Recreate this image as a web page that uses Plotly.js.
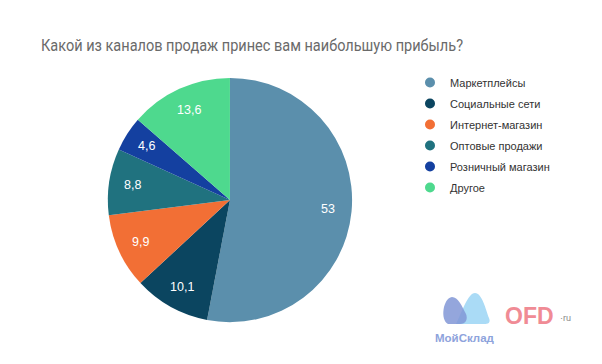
<!DOCTYPE html>
<html><head><meta charset="utf-8">
<script src="https://cdn.plot.ly/plotly-3.0.1.min.js"></script>
<style>html,body{margin:0;padding:0;background:#fff}#c{width:602px;height:364px}</style>
</head><body><div id="c"></div>
<script>
const categories = ["Маркетплейсы","Социальные сети","Интернет-магазин","Оптовые продажи","Розничный магазин","Другое"];
const values = [53, 10.1, 9.9, 8.8, 4.6, 13.6];
const valueLabels = ["53","10,1","9,9","8,8","4,6","13,6"];
const colors = ["#5b8fac","#0b4560","#f26f35","#20727f","#1440a0","#4ed98e"];
const titleText = "Какой из каналов продаж принес вам наибольшую прибыль?";

const W = 602, H = 364;
const pieDomain = {x: [0.179, 0.585], y: [0.115, 0.786]};
const px = (x) => x / W, py = (y) => 1 - y / H;

const traces = [{
  type: "pie",
  labels: categories,
  values: values,
  textinfo: "none",
  sort: false,
  direction: "clockwise",
  rotation: 0,
  marker: {colors: colors, line: {width: 0}},
  showlegend: false,
  hoverinfo: "label+value",
  domain: pieDomain
}];
categories.forEach((c, i) => {
  traces.push({
    type: "scatter", mode: "markers", x: [null], y: [null], name: c,
    legendgroup: "g" + i,
    marker: {color: colors[i], size: 10, symbol: "circle"},
    showlegend: true, hoverinfo: "skip"
  });
});

// value labels placed at the middle angle of each slice, computed from the data
const cx = (pieDomain.x[0] + pieDomain.x[1]) / 2 * W;
const cy = (1 - (pieDomain.y[0] + pieDomain.y[1]) / 2) * H;
const R = Math.min((pieDomain.x[1] - pieDomain.x[0]) * W, (pieDomain.y[1] - pieDomain.y[0]) * H) / 2;
const total = values.reduce((a, b) => a + b, 0);
let cum = 0;
const labelAnns = values.map((v, i) => {
  const mid = (cum + v / 2) / total * 2 * Math.PI;
  cum += v;
  const lx = cx + 0.81 * R * Math.sin(mid);
  const ly = cy - 0.81 * R * Math.cos(mid);
  return {xref: "paper", yref: "paper", x: px(lx), y: py(ly), xanchor: "center", yanchor: "middle",
    text: valueLabels[i], showarrow: false,
    font: {family: "Liberation Sans, Arial, sans-serif", size: 12.5, color: "#ffffff"}};
});

function path(pts) { // pixel path -> paper path
  return pts.replace(/(-?\d+(\.\d+)?),(-?\d+(\.\d+)?)/g, (m, a, b, c2, d) => px(+a).toFixed(4) + " " + py(+c2).toFixed(4));
}

const layout = {
  width: W, height: H,
  margin: {l: 0, r: 0, t: 0, b: 0},
  paper_bgcolor: "#ffffff", plot_bgcolor: "rgba(0,0,0,0)",
  title: {text: titleText, x: 41/W, xanchor: "left", y: 1 - 45/H, yanchor: "middle",
    font: {family: "Roboto, Liberation Sans, Arial, sans-serif", size: 17, color: "#6a6a6a"}},
  xaxis: {visible: false, domain: [0.9, 0.95]},
  yaxis: {visible: false, domain: [0.9, 0.95]},
  showlegend: true,
  legend: {x: 410/W, y: 1 - 68/H, xanchor: "left", yanchor: "top",
    font: {family: "Liberation Sans, Arial, sans-serif", size: 11, color: "#333333"},
    tracegroupgap: 2, itemwidth: 30, bgcolor: "rgba(0,0,0,0)"},
  shapes: [
    {type: "path", xref: "paper", yref: "paper",
     path: path("M 456,324 C 462,312 468,293 475,293 C 482,293 486,310 489,318 C 491,323 488,324 484,324 Z"),
     fillcolor: "#aadbf6", line: {width: 0}},
    {type: "path", xref: "paper", yref: "paper",
     path: path("M 448,324 C 440,320 443,298 452,297 C 458,297 462,306 466,314 C 468,319 466,324 460,324 Z"),
     fillcolor: "#8197d6", opacity: 0.85, line: {width: 0}}
  ],
  annotations: labelAnns.concat([
    {xref: "paper", yref: "paper", x: px(465), y: py(338), xanchor: "center", yanchor: "middle",
     text: "<b>МойСклад</b>", showarrow: false,
     font: {family: "Liberation Sans, Arial, sans-serif", size: 11.5, color: "#8ea3dc"}},
    {xref: "paper", yref: "paper", x: px(529), y: py(316), xanchor: "center", yanchor: "middle",
     text: "<b>OFD</b>", showarrow: false,
     font: {family: "Liberation Sans, Arial, sans-serif", size: 23, color: "#f08b95"}},
    {xref: "paper", yref: "paper", x: px(565), y: py(318), xanchor: "center", yanchor: "middle",
     text: "·ru", showarrow: false,
     font: {family: "Liberation Sans, Arial, sans-serif", size: 9, color: "#888888"}}
  ])
};
Plotly.newPlot("c", traces, layout, {displayModeBar: false, staticPlot: true}).then((gd) => {
  // the reference title is horizontally condensed: fit it to its measured width
  const t = gd.querySelector(".gtitle");
  if (t) { t.setAttribute("textLength", "422"); t.setAttribute("lengthAdjust", "spacingAndGlyphs"); }
});
</script></body></html>
